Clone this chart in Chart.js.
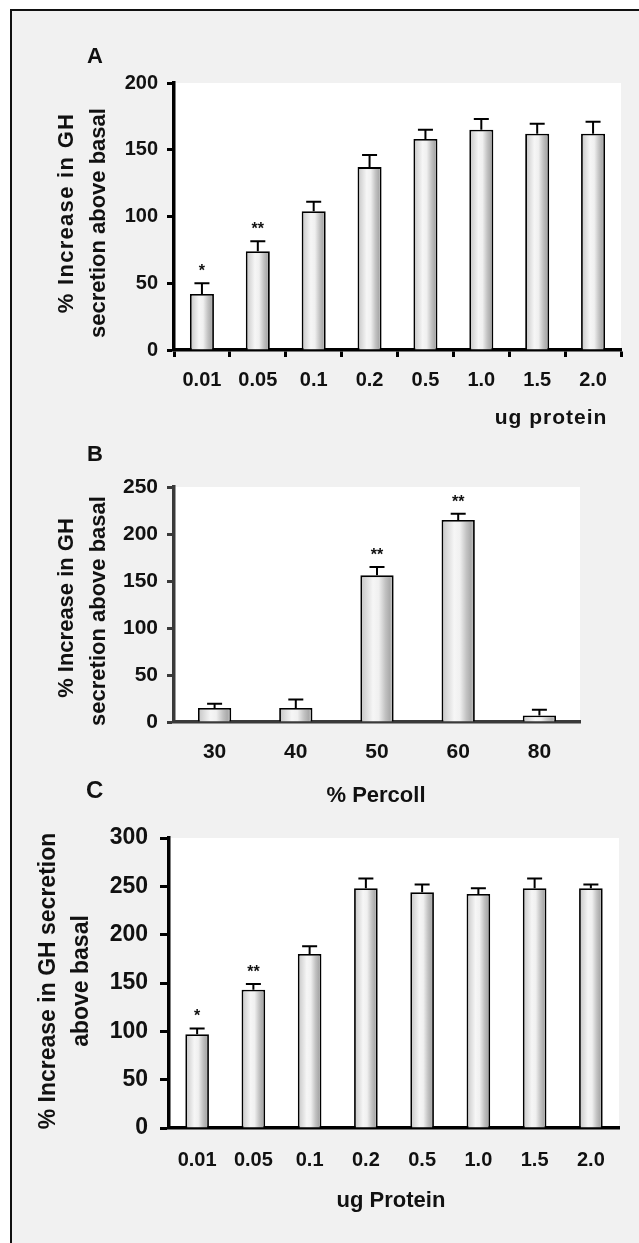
<!DOCTYPE html>
<html>
<head>
<meta charset="utf-8">
<script src="https://cdn.jsdelivr.net/npm/chart.js@4.4.0/dist/chart.umd.min.js"></script>
<style>
  html, body { margin: 0; padding: 0; background: #ffffff; width: 639px; height: 1243px; overflow: hidden; }
  #frame { position: absolute; left: 10px; top: 9px; width: 700px; height: 1300px;
           border-left: 2.5px solid #111; border-top: 2.5px solid #111; background: #f1f1f1; }
  canvas { position: absolute; left: 0; }
</style>
</head>
<body>
<div id="frame"></div>
<canvas id="chartA" width="639" height="430" style="top:0px"></canvas>
<canvas id="chartB" width="639" height="390" style="top:430px"></canvas>
<canvas id="chartC" width="639" height="483" style="top:760px"></canvas>
<script>
// ---------- data ----------
const categoriesA = ['0.01', '0.05', '0.1', '0.2', '0.5', '1.0', '1.5', '2.0'];
const valuesA     = [42, 74, 104, 137, 158, 165, 162, 162];
const errorsA     = [8, 7.5, 7, 9, 7, 8, 7.5, 9];
const starsA      = ['*', '**', '', '', '', '', '', ''];
const yTicksA     = [0, 50, 100, 150, 200];

const categoriesB = ['30', '40', '50', '60', '80'];
const valuesB     = [15, 15, 156, 215, 7];
const errorsB     = [4.5, 9, 9, 6.5, 6];
const starsB      = ['', '', '**', '**', ''];
const yTicksB     = [0, 50, 100, 150, 200, 250];

const categoriesC = ['0.01', '0.05', '0.1', '0.2', '0.5', '1.0', '1.5', '2.0'];
const valuesC     = [97, 143, 180, 248, 244, 242, 248, 248];
const errorsC     = [6, 6, 8, 10, 8, 6, 10, 4];
const starsC      = ['*', '**', '', '', '', '', '', ''];
const yTicksC     = [0, 50, 100, 150, 200, 250, 300];

const yTitleA = ['% Increase in GH', 'secretion above basal'];
const yTitleB = ['% Increase in GH', 'secretion above basal'];
const yTitleC = ['% Increase in GH secretion', 'above basal'];
const xTitleA = 'ug protein';
const xTitleB = '% Percoll';
const xTitleC = 'ug Protein';

// ---------- helpers ----------
const FAM = '"Liberation Sans", Arial, Helvetica, sans-serif';

function barFill(pct) {
  return function (c) {
    const chart = c.chart;
    const xs = chart.scales && chart.scales.x;
    if (c.type !== 'data' || !xs || !(xs.width > 0)) return '#e0e0e0';
    const n = chart.data.labels.length;
    const w = xs.width / n * pct;
    const cx = xs.getPixelForValue(c.dataIndex);
    const g = chart.ctx.createLinearGradient(cx - w / 2, 0, cx + w / 2, 0);
    g.addColorStop(0.00, '#c4c4c4');
    g.addColorStop(0.15, '#d8d8d8');
    g.addColorStop(0.38, '#f6f6f6');
    g.addColorStop(0.55, '#f0f0f0');
    g.addColorStop(0.75, '#c2c2c2');
    g.addColorStop(0.88, '#ababab');
    g.addColorStop(1.00, '#cbcbcb');
    return g;
  };
}

const decoPlugin = {
  id: 'deco',
  beforeDraw(chart, args, o) {
    const { ctx, chartArea: a } = chart;
    ctx.save();
    ctx.fillStyle = '#ffffff';
    ctx.fillRect(a.left, a.top, a.right - a.left, a.bottom - a.top);
    ctx.restore();
  },
  afterDatasetsDraw(chart, args, o) {
    const ctx = chart.ctx, ys = chart.scales.y;
    const meta = chart.getDatasetMeta(0);
    const vals = chart.data.datasets[0].data;
    ctx.save();
    meta.data.forEach((bar, i) => {
      const x = bar.x;
      const yTop = ys.getPixelForValue(vals[i]);
      const yErr = ys.getPixelForValue(vals[i] + o.errors[i]);
      ctx.strokeStyle = '#000';
      ctx.lineWidth = 2;
      ctx.beginPath();
      ctx.moveTo(x, yTop);
      ctx.lineTo(x, yErr);
      ctx.moveTo(x - 7.5, yErr);
      ctx.lineTo(x + 7.5, yErr);
      ctx.stroke();
      if (o.stars[i]) {
        ctx.fillStyle = '#111';
        ctx.font = 'bold 16px ' + FAM;
        ctx.textAlign = 'center';
        ctx.textBaseline = 'alphabetic';
        ctx.fillText(o.stars[i], x, yErr - 7);
      }
    });
    ctx.restore();
  },
  afterDraw(chart, args, o) {
    const ctx = chart.ctx;
    ctx.save();
    ctx.fillStyle = '#111';
    // panel letter
    ctx.font = 'bold ' + o.letterSize + 'px ' + FAM;
    ctx.textAlign = 'left';
    ctx.textBaseline = 'alphabetic';
    ctx.fillText(o.letter, o.letterX, o.letterY);
    // x title
    ctx.font = 'bold ' + o.xTitleSize + 'px ' + FAM;
    ctx.textAlign = 'center';
    if (o.xTitleSpacing) ctx.letterSpacing = o.xTitleSpacing;
    ctx.fillText(o.xTitle, o.xTitleX, o.xTitleY);
    ctx.letterSpacing = '0px';
    // y title (rotated)
    ctx.font = 'bold ' + o.yTitleSize + 'px ' + FAM;
    o.yTitle.forEach((line, i) => {
      ctx.save();
      ctx.translate(o.yTitleBase[i], o.yTitleCenter[i]);
      ctx.rotate(-Math.PI / 2);
      ctx.textAlign = 'center';
      ctx.textBaseline = 'alphabetic';
      ctx.letterSpacing = (o.yTitleSpacing ? o.yTitleSpacing[i] : 0) + 'px';
      ctx.fillText(line, 0, 0);
      ctx.restore();
    });
    ctx.restore();
  }
};

function makeChart(id, p) {
  const canvas = document.getElementById(id);
  const H = canvas.height;
  return new Chart(canvas, {
    type: 'bar',
    data: {
      labels: p.labels,
      datasets: [{
        data: p.values,
        backgroundColor: barFill(p.barPct),
        borderColor: '#000',
        borderWidth: 1.8,
        borderSkipped: 'bottom',
        barPercentage: p.barPct,
        categoryPercentage: 1
      }]
    },
    options: {
      responsive: false,
      animation: false,
      events: [],
      layout: { padding: { left: 0, top: p.area.top, right: 639 - p.area.right, bottom: 0 } },
      plugins: {
        legend: { display: false },
        tooltip: { enabled: false },
        deco: p.deco
      },
      scales: {
        x: {
          offset: true,
          grid: {
            display: p.xTicks, drawOnChartArea: false, drawTicks: p.xTicks,
            tickLength: 7, tickWidth: 3, tickColor: p.axisColor, offset: true
          },
          border: { display: true, color: p.axisColor, width: 3.5 },
          ticks: {
            color: '#111', autoSkip: false, maxRotation: 0, padding: p.xPad,
            font: { family: FAM, size: p.xSize, weight: 'bold' }
          },
          afterFit: s => { s.height = H - p.area.bottom; }
        },
        y: {
          min: 0, max: p.yTicks[p.yTicks.length - 1],
          afterBuildTicks: s => { s.ticks = p.yTicks.map(v => ({ value: v })); },
          grid: {
            drawOnChartArea: false, drawTicks: true,
            tickLength: p.yTickLen, tickWidth: 3, tickColor: p.axisColor
          },
          border: { display: true, color: p.axisColor, width: 3.5 },
          ticks: {
            color: '#111', padding: p.yPad,
            font: { family: FAM, size: p.ySize, weight: 'bold' }
          },
          afterFit: s => { s.width = p.area.left; }
        }
      }
    },
    plugins: [decoPlugin]
  });
}

Chart.defaults.font.family = FAM;

makeChart('chartA', {
  labels: categoriesA, values: valuesA, yTicks: yTicksA, barPct: 0.43,
  area: { left: 174, right: 621, top: 83, bottom: 350 },
  axisColor: '#000', xTicks: true, xPad: 11, xSize: 20, ySize: 20, yPad: 9, yTickLen: 7,
  deco: {
    errors: errorsA, stars: starsA,
    letter: 'A', letterSize: 22, letterX: 87, letterY: 63,
    xTitle: xTitleA, xTitleSize: 21, xTitleX: 551, xTitleY: 424, xTitleSpacing: '1px',
    yTitle: yTitleA, yTitleSize: 22, yTitleBase: [73, 105], yTitleCenter: [213, 223],
    yTitleSpacing: [1.3, 0]
  }
});

makeChart('chartB', {
  labels: categoriesB, values: valuesB, yTicks: yTicksB, barPct: 0.41,
  area: { left: 174, right: 580, top: 57, bottom: 292 },
  axisColor: '#3a3a3a', xTicks: false, xPad: 18, xSize: 21, ySize: 21, yPad: 9, yTickLen: 7,
  deco: {
    errors: errorsB, stars: starsB,
    letter: 'B', letterSize: 22, letterX: 87, letterY: 31,
    xTitle: xTitleB, xTitleSize: 22, xTitleX: 376, xTitleY: 372,
    yTitle: yTitleB, yTitleSize: 22, yTitleBase: [73, 105], yTitleCenter: [178, 181]
  }
});

makeChart('chartC', {
  labels: categoriesC, values: valuesC, yTicks: yTicksC, barPct: 0.42,
  area: { left: 169, right: 619, top: 78, bottom: 368 },
  axisColor: '#000', xTicks: false, xPad: 20, xSize: 20, ySize: 23, yPad: 12, yTickLen: 9,
  deco: {
    errors: errorsC, stars: starsC,
    letter: 'C', letterSize: 24, letterX: 86, letterY: 38,
    xTitle: xTitleC, xTitleSize: 22, xTitleX: 391, xTitleY: 447,
    yTitle: yTitleC, yTitleSize: 23, yTitleBase: [55, 88], yTitleCenter: [221, 221]
  }
});
</script>
</body>
</html>
